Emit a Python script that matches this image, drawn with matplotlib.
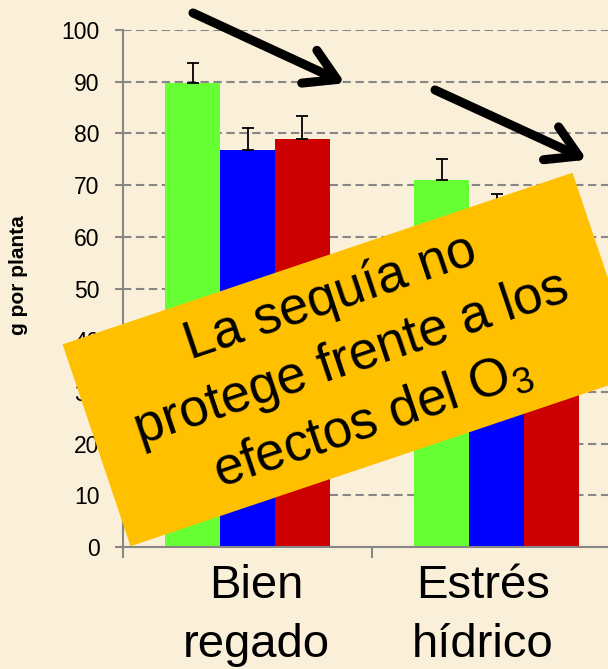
import numpy as np
import matplotlib
matplotlib.use("Agg")
import matplotlib.pyplot as plt
from matplotlib.patches import Rectangle
from matplotlib.transforms import Affine2D

plt.rcParams['font.family'] = ['Liberation Sans', 'DejaVu Sans']
plt.rcParams['mathtext.fontset'] = 'custom'
plt.rcParams['mathtext.rm'] = 'Liberation Sans'

# Data: biomass (g per plant) by irrigation regime and ozone treatment
categories = ["Bien\nregado", "Estrés\nhídrico"]
green_vals = [89.7, 71.0]
blue_vals = [76.8, 64.0]
red_vals = [78.9, 65.0]
green_err = [4.0, 4.0]
blue_err = [4.3, 4.2]
red_err = [4.5, 4.0]
yticks = [0, 10, 20, 30, 40, 50, 60, 70, 80, 90, 100]

bg = '#FAEFD8'
grey = '#878787'
colors = ['#66FF33', '#0000FF', '#CC0000']

fig = plt.figure(figsize=(6.08, 6.69), dpi=100, facecolor=bg)
ax = fig.add_axes([123 / 608, 122 / 669, 498 / 608, 517 / 669])
ax.set_facecolor('none')

x = np.arange(len(categories))
w = 0.22
series = [(green_vals, green_err), (blue_vals, blue_err), (red_vals, red_err)]
for k, ((vals, errs), c) in enumerate(zip(series, colors)):
    pos = x + (k - 1) * w
    ax.bar(pos, vals, width=w, color=c, zorder=2)
    ax.errorbar(pos, vals, yerr=[np.zeros(len(vals)), errs], fmt='none',
                ecolor='black', elinewidth=1.3, capsize=4.5, capthick=1.3, zorder=3)

ax.set_xlim(-0.5, 1.5)
ax.set_ylim(0, 100)
ax.set_yticks(yticks)
ax.set_yticklabels([str(t) for t in yticks], fontsize=16.5)
ax.tick_params(axis='y', direction='out', length=6, width=1.5, color=grey, pad=11)

ax.set_xticks([-0.5, 0.5, 1.5])
ax.set_xticklabels([])
ax.tick_params(axis='x', direction='out', length=8, width=1.5, color=grey)

for sp in ['top', 'right']:
    ax.spines[sp].set_visible(False)
for sp in ['left', 'bottom']:
    ax.spines[sp].set_color(grey)
    ax.spines[sp].set_linewidth(1.5)

for t in yticks[1:]:
    ax.axhline(t, color=grey, linewidth=1.5, linestyle=(0, (4, 2.2)), zorder=1)

# category labels below the axis
label_shift = [6, -10]
for i, (cat, dx) in enumerate(zip(categories, label_shift)):
    ax.annotate(cat, xy=(x[i], 0), xycoords=('data', 'axes fraction'),
                xytext=(dx, -12), textcoords='offset points',
                ha='center', va='top', fontsize=34, linespacing=1.45,
                annotation_clip=False)

fig.text(19 / 608, (669 - 275) / 669, 'g por planta',
         rotation=90, fontsize=15, fontweight='bold', ha='center', va='center')

# arrows marking the drop in biomass
arrow_kw = dict(arrowstyle='->,head_length=2.2,head_width=1.3', lw=6.5,
                color='black', mutation_scale=10, shrinkA=0, shrinkB=0)
for start, tip in [((-0.219, 103.3), (0.392, 89.7)), ((0.753, 88.4), (1.363, 74.9))]:
    an = ax.annotate('', xy=tip, xytext=start, xycoords='data',
                     arrowprops=arrow_kw, annotation_clip=False, zorder=5)
    an.arrow_patch.set_clip_on(False)

# rotated call-out
cx, cy = 351.5 / 100, (669 - 359.5) / 100
bw, bh = 5.38, 2.13
ang = 18.6
tr = Affine2D().rotate_deg(ang).translate(cx, cy) + fig.dpi_scale_trans
fig.patches.append(Rectangle((-bw / 2, -bh / 2), bw, bh, facecolor='#FFC000',
                             edgecolor='none', transform=tr, zorder=10))
fig.text(cx / 6.08, cy / 6.69,
         'La sequía no\nprotege frente a los\nefectos del O$_{\\mathregular{3}}$',
         rotation=ang, rotation_mode='anchor', ha='center', va='center',
         multialignment='center', fontsize=38, linespacing=1.38, zorder=11)

fig.savefig('out.png', dpi=100, facecolor=bg)
